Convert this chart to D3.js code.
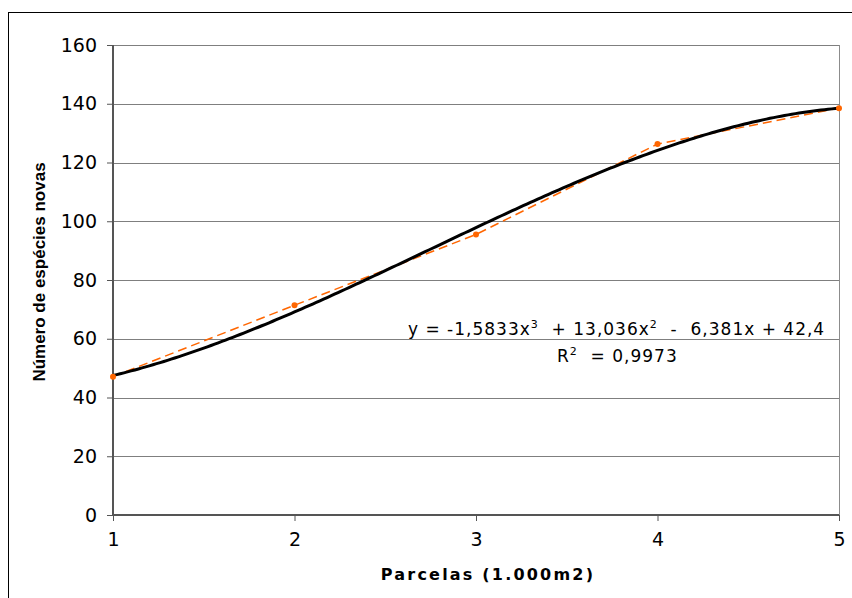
<!DOCTYPE html>
<html>
<head>
<meta charset="utf-8">
<script src="https://cdn.jsdelivr.net/npm/d3@7"></script>
<style>
  body { margin: 0; background: #fff; }
  svg { display: block; }
</style>
</head>
<body>
<div id="chart"></div>
<script>
// observed points (parcelas 1 -> 5)
var pointX = [1, 2, 3, 4, 5];
var pointY = [47.1, 71.4, 95.5, 126.3, 138.5];

// polynomial trendline coefficients (x^3, x^2, x, c) as printed on chart
var trendCoef = [-1.5833, 13.036, -6.381, 42.4];

var yTicks = [0, 20, 40, 60, 80, 100, 120, 140, 160];
var xTicks = [1, 2, 3, 4, 5];

var svgWidth = 852;
var svgHeight = 598;
var font = "'DejaVu Sans', Verdana, sans-serif";

var svg = d3.select("#chart")
    .append("svg")
    .attr("width", svgWidth)
    .attr("height", svgHeight);

// outer frame
svg.append("rect")
    .attr("x", 8.5).attr("y", 12.5)
    .attr("width", 900).attr("height", 700)
    .attr("fill", "none")
    .attr("stroke", "#000")
    .attr("stroke-width", 1);

var x = d3.scaleLinear().domain([1, 5]).range([113, 839]);
var y = d3.scaleLinear().domain([0, 160]).range([515, 45]);

// gridlines
svg.append("g").selectAll("line")
    .data(yTicks.filter(function(d) { return d > 0; }))
    .enter().append("line")
    .attr("x1", x(1)).attr("x2", x(5))
    .attr("y1", function(d) { return Math.round(y(d)) + 0.5; })
    .attr("y2", function(d) { return Math.round(y(d)) + 0.5; })
    .attr("stroke", "#7f7f7f")
    .attr("stroke-width", 1);

// right border of plot
svg.append("line")
    .attr("x1", x(5) + 0.5).attr("x2", x(5) + 0.5)
    .attr("y1", y(160)).attr("y2", y(0))
    .attr("stroke", "#8c8c8c");

// axes
var yAxis = d3.axisLeft(y).tickValues(yTicks).tickSize(6).tickPadding(10);
var xAxis = d3.axisBottom(x).tickValues(xTicks).tickFormat(d3.format("d"))
    .tickSize(6).tickPadding(12);

var gy = svg.append("g")
    .attr("transform", "translate(" + x(1) + ",0)")
    .call(yAxis);
var gx = svg.append("g")
    .attr("transform", "translate(0," + y(0) + ")")
    .call(xAxis);

[gx, gy].forEach(function(g) {
    g.select(".domain").attr("stroke", "#555").attr("stroke-width", 2);
    g.selectAll(".tick line").attr("stroke", "#555");
    g.selectAll(".tick text")
      .attr("fill", "#000")
      .style("font-family", font)
      .style("font-size", "19px");
});
gy.select(".domain").attr("d", "M0," + y(160) + "V" + y(0));
gx.select(".domain").attr("d", "M" + x(1) + ",0H" + x(5));

var line = d3.line()
    .x(function(d) { return x(d[0]); })
    .y(function(d) { return y(d[1]); });

// orange dashed series
svg.append("path")
    .datum(pointX.map(function(d, i) { return [d, pointY[i]]; }))
    .attr("d", line)
    .attr("fill", "none")
    .attr("stroke", "#ff6600")
    .attr("stroke-width", 1.5)
    .attr("stroke-dasharray", "9,5");

// black polynomial trendline
var trendData = d3.range(0, 201).map(function(i) {
    var xv = 1 + i * 0.02;
    var yv = trendCoef[0] * xv * xv * xv + trendCoef[1] * xv * xv + trendCoef[2] * xv + trendCoef[3];
    return [xv, yv];
});

svg.append("path")
    .datum(trendData)
    .attr("d", line)
    .attr("fill", "none")
    .attr("stroke", "#000")
    .attr("stroke-width", 3)
    .attr("stroke-linejoin", "round");

// orange points
svg.append("g").selectAll("circle")
    .data(pointX)
    .enter().append("circle")
    .attr("cx", function(d) { return x(d); })
    .attr("cy", function(d, i) { return y(pointY[i]); })
    .attr("r", 3)
    .attr("fill", "#ff6600");

// equation
var eq = svg.append("text")
    .attr("x", 408).attr("y", 335)
    .attr("xml:space", "preserve")
    .style("font-family", font)
    .style("font-size", "17px")
    .style("letter-spacing", "1px")
    .attr("fill", "#000");
eq.append("tspan").text("y = -1,5833x");
eq.append("tspan").attr("dy", -7).style("font-size", "11px").text("3");
eq.append("tspan").attr("dy", 7).text("  + 13,036x");
eq.append("tspan").attr("dy", -7).style("font-size", "11px").text("2");
eq.append("tspan").attr("dy", 7).text("  -  6,381x + 42,4");

var r2 = svg.append("text")
    .attr("x", 557).attr("y", 362)
    .attr("xml:space", "preserve")
    .style("font-family", font)
    .style("font-size", "17px")
    .style("letter-spacing", "1px")
    .attr("fill", "#000");
r2.append("tspan").text("R");
r2.append("tspan").attr("dy", -7).style("font-size", "11px").text("2");
r2.append("tspan").attr("dy", 7).text("  = 0,9973");

// axis titles
svg.append("text")
    .attr("x", 488).attr("y", 580)
    .attr("text-anchor", "middle")
    .style("font-family", font)
    .style("font-weight", "bold")
    .style("font-size", "16px")
    .style("letter-spacing", "2.2px")
    .text("Parcelas (1.000m2)");

svg.append("text")
    .attr("transform", "translate(45,272) rotate(-90)")
    .attr("text-anchor", "middle")
    .style("font-family", "'Liberation Sans', Arial, sans-serif")
    .style("font-weight", "bold")
    .style("font-size", "17px")
    .text("Número de espécies novas");
</script>
</body>
</html>
